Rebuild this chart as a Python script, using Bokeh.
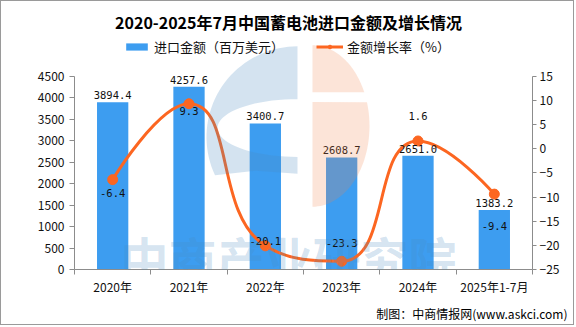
import math
import numpy as np
from bokeh.plotting import figure
from bokeh.models import (ColumnDataSource, LinearAxis, Range1d, FixedTicker,
                          Label, Legend, LegendItem, Title)
from bokeh.core.properties import value
from bokeh.embed import file_html
from bokeh.resources import INLINE

# ---------------- data ----------------
categories = ["2020年", "2021年", "2022年", "2023年", "2024年", "2025年1-7月"]
import_amount = [3894.4, 4257.6, 3400.7, 2608.7, 2651.0, 1383.2]   # 百万美元
growth_rate = [-6.4, 9.3, -20.1, -23.3, 1.6, -9.4]                 # %
left_ticks = [0, 500, 1000, 1500, 2000, 2500, 3000, 3500, 4000, 4500]
right_ticks = [-25, -20, -15, -10, -5, 0, 5, 10, 15]

title_text = "2020-2025年7月中国蓄电池进口金额及增长情况"
legend_labels = ["进口金额（百万美元）", "金额增长率（%）"]
source_note = "制图：中商情报网(www.askci.com)"
watermark_text = "中商产业研究院"

# ---------------- style ----------------
BAR_COLOR = "#3d9df0"
LINE_COLOR = "#fc6621"
AXIS_COLOR = "#8c8c8c"
TEXT_COLOR = "#111111"
WM_BLUE = "#4a8cc0"
WM_ORANGE = "#f0824c"
CJK = "Noto Sans CJK SC"
MONO = "DejaVu Sans Mono"
growth_label_dy = [13, 7, -5, -18, -25, 32]   # px, positive = down

# ---------------- layout (page pixels) ----------------
PAGE_W, PAGE_H = 576, 327
BORDER = 1
W, H = PAGE_W - 2 * BORDER, PAGE_H - 2 * BORDER
FL, FR, FT, FB = 74, 532, BORDER, 270     # plot frame edges
AXIS_TOP = 76                              # pixel of 4500 / 15

n = len(categories)
centers = np.arange(n) + 0.5
lmin, lmax = left_ticks[0], left_ticks[-1]
rmin, rmax = right_ticks[0], right_ticks[-1]
left_top = lmin + (lmax - lmin) * (FB - FT) / (FB - AXIS_TOP)
right_top = rmin + (rmax - rmin) * (FB - FT) / (FB - AXIS_TOP)


def dx(px):
    return (px - FL) / (FR - FL) * n


def dy(py):
    return lmin + (FB - py) / (FB - AXIS_TOP) * (lmax - lmin)


p = figure(width=W, height=H, x_range=Range1d(0, n), y_range=Range1d(lmin, left_top),
           output_backend="svg", toolbar_location=None,
           min_border_left=FL - BORDER, min_border_right=(PAGE_W - BORDER) - FR,
           min_border_top=0, min_border_bottom=(PAGE_H - BORDER) - FB)
p.extra_y_ranges = {"right": Range1d(rmin, right_top)}
p.styles = {"border": "1px solid #9a9a9a"}
p.outline_line_color = None
p.xgrid.visible = False
p.ygrid.visible = False
p.background_fill_color = "white"
p.border_fill_color = "white"

# left axis
yl = p.yaxis[0]
yl.ticker = FixedTicker(ticks=left_ticks)
yl.bounds = (lmin, lmax)
# right axis
yr = LinearAxis(y_range_name="right", ticker=FixedTicker(ticks=right_ticks), bounds=(rmin, rmax))
p.add_layout(yr, "right")

for ax, out, stand in ((yl, 5, 5), (yr, 4, 3)):
    ax.axis_line_color = AXIS_COLOR
    ax.major_tick_line_color = AXIS_COLOR
    ax.major_tick_out = out
    ax.major_tick_in = 0
    ax.minor_tick_line_color = None
    ax.major_label_standoff = stand
    ax.major_label_text_font = CJK
    ax.major_label_text_font_size = "12px"
    ax.major_label_text_color = TEXT_COLOR

xa = p.xaxis[0]
xa.ticker = FixedTicker(ticks=list(centers), minor_ticks=list(range(n + 1)))
xa.major_label_overrides = {float(c): lab for c, lab in zip(centers, categories)}
xa.axis_line_color = AXIS_COLOR
xa.major_tick_line_color = None
xa.major_tick_out = 0
xa.major_tick_in = 0
xa.minor_tick_line_color = AXIS_COLOR
xa.minor_tick_out = 5
xa.minor_tick_in = 0
xa.major_label_standoff = 3
xa.major_label_text_font = CJK
xa.major_label_text_font_size = "12px"
xa.major_label_text_color = TEXT_COLOR

# source note under the axis
p.add_layout(Title(text=source_note, align="right", offset=-35, standoff=10,
                   vertical_align="bottom", text_font=CJK, text_font_size="12px",
                   text_font_style="normal", text_color="#000000"), "below")

# ---------------- bars ----------------
bar_src = ColumnDataSource(dict(x=centers, top=import_amount,
                                label=[f"{v:.1f}" for v in import_amount]))
bars = p.vbar(x="x", top="top", width=0.41, bottom=0, source=bar_src,
              fill_color=BAR_COLOR, line_color=None)

# ---------------- smoothed growth line (ECharts-like smoothing) ----------------
sx = (FR - FL) / n
sy = (FB - AXIS_TOP) / (rmax - rmin)
X = [c * sx for c in centers]
Y = [g * sy for g in growth_rate]


def clamp(v, a, b):
    return max(min(v, max(a, b)), min(a, b))


segs = []
smooth = 0.5
cp0 = (X[0], Y[0])
for i in range(1, n):
    x, y = X[i], Y[i]
    px_, py_ = X[i - 1], Y[i - 1]
    if i == n - 1:
        cp1 = (x, y)
        nxt = None
    else:
        nx, ny = X[i + 1], Y[i + 1]
        vx, vy = nx - px_, ny - py_
        l0 = math.hypot(x - px_, y - py_)
        l1 = math.hypot(nx - x, ny - y)
        r = l1 / (l0 + l1)
        ncx = clamp(x + vx * smooth * r, nx, x)
        ncy = clamp(y + vy * smooth * r, ny, y)
        vx, vy = ncx - x, ncy - y
        c1x = clamp(x - vx * l0 / l1, px_, x)
        c1y = clamp(y - vy * l0 / l1, py_, y)
        vx, vy = x - c1x, y - c1y
        ncx = x + vx * l1 / l0
        ncy = y + vy * l1 / l0
        cp1 = (c1x, c1y)
        nxt = (ncx, ncy)
    segs.append((px_, py_, cp0[0], cp0[1], cp1[0], cp1[1], x, y))
    cp0 = nxt

seg_src = ColumnDataSource(dict(
    x0=[s[0] / sx for s in segs], y0=[s[1] / sy for s in segs],
    cx0=[s[2] / sx for s in segs], cy0=[s[3] / sy for s in segs],
    cx1=[s[4] / sx for s in segs], cy1=[s[5] / sy for s in segs],
    x1=[s[6] / sx for s in segs], y1=[s[7] / sy for s in segs]))
curve = p.bezier(x0="x0", y0="y0", x1="x1", y1="y1", cx0="cx0", cy0="cy0",
                 cx1="cx1", cy1="cy1", source=seg_src, y_range_name="right",
                 line_color=LINE_COLOR, line_width=3)

pt_src = ColumnDataSource(dict(x=centers, y=growth_rate,
                               label=[f"{v:.1f}" for v in growth_rate],
                               dy=growth_label_dy))
dots = p.scatter(x="x", y="y", source=pt_src, y_range_name="right", size=10,
                 fill_color=LINE_COLOR, line_color=LINE_COLOR)

# ---------------- value labels ----------------
p.text(x="x", y="top", text="label", source=bar_src, text_align="center",
       text_baseline="bottom", y_offset=-3, text_font=value(MONO),
       text_font_size="10.5px", text_color=TEXT_COLOR)
p.text(x="x", y="y", text="label", source=pt_src, y_range_name="right",
       text_align="center", text_baseline="middle", y_offset="dy",
       text_font=value(MONO), text_font_size="10.5px", text_color=TEXT_COLOR)

# ---------------- watermark logo (decoration) ----------------
def arc(cx, cy, rx, ry, t0, t1, num=40):
    t = np.radians(np.linspace(t0, t1, num))
    return list(cx + rx * np.cos(t)), list(cy - ry * np.sin(t))

bx, by = arc(297, 137, 91, 91, 90, 205)
bx += [255, 297]
by += [171, 174]
ix, iy = arc(297, 128, 80, 29, 270, 90)
bx += ix + [297]
by += iy + [46]
tx, ty = arc(312, 126, 57, 81, 90, 24.8)
tx += [312]
ty += [92]
ux, uy = arc(312, 126, 57, 81, 17.2, -90)
ux += [312]
uy += [102]
p.patches(xs=[[dx(v) for v in bx]], ys=[[dy(v) for v in by]],
          fill_color=WM_BLUE, fill_alpha=0.24, line_color=None)
p.patches(xs=[[dx(v) for v in tx], [dx(v) for v in ux]],
          ys=[[dy(v) for v in ty], [dy(v) for v in uy]],
          fill_color=WM_ORANGE, fill_alpha=0.22, line_color=None)

p.add_layout(Label(x=dx(288), y=dy(257), text=watermark_text, text_align="center",
                   text_baseline="middle", text_font=CJK, text_font_size="48px",
                   text_font_style="bold", text_color=WM_BLUE, text_alpha=0.24))

# ---------------- title, legend ----------------
p.add_layout(Label(x=dx(288), y=dy(22), text=title_text, text_align="center",
                   text_baseline="middle", text_font=CJK, text_font_size="16px",
                   text_font_style="bold", text_color="#000000"))

legend = Legend(items=[LegendItem(label=legend_labels[0], renderers=[bars]),
                       LegendItem(label=legend_labels[1], renderers=[curve, dots])],
                orientation="horizontal", location=(123 - FL, FB - 57),
                glyph_width=27, glyph_height=9, label_height=15,
                label_standoff=4, spacing=32, padding=0, margin=0,
                border_line_color=None, background_fill_alpha=0,
                label_text_font=CJK, label_text_font_size="13px",
                label_text_color=TEXT_COLOR)
p.add_layout(legend)

open("out.html", "w").write(file_html(p, INLINE))
